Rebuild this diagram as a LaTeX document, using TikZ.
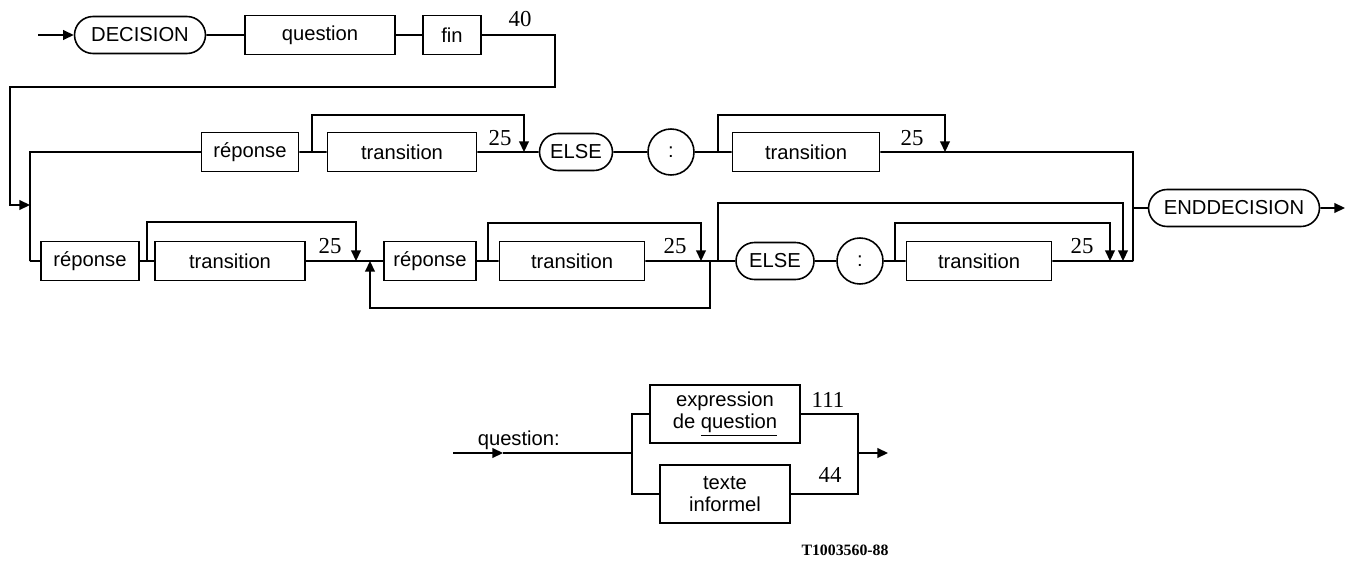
\documentclass[tikz,border=0pt]{standalone}
\usepackage{fontspec}
\setmainfont{Liberation Serif}
\setsansfont{Liberation Sans}
\usetikzlibrary{shapes.misc,arrows.meta}

\tikzset{
  boite/.style={draw, line width=0.9pt, minimum height=0.78cm, inner sep=2pt,
    font=\sffamily\fontsize{11.5}{13}\selectfont},
  mot/.style={boite, rounded rectangle, minimum height=0.74cm},
  rond/.style={draw, circle, line width=0.9pt, minimum size=0.92cm, inner sep=0pt,
    font=\sffamily\fontsize{11.5}{13}\selectfont},
  num/.style={font=\fontsize{13}{14}\selectfont},
  fl/.style={-{Triangle[length=6pt,width=5.5pt]}},
}

\begin{document}
\begin{tikzpicture}[x=0.02cm, y=-0.02cm, line width=0.9pt]
\useasboundingbox (0,0) rectangle (1356,561);

% Ligne 1 : DECISION question fin
\coordinate (in) at (38,35);
\node[mot, minimum width=2.76cm] (dec) at (140,35) {DECISION};
\node[boite, minimum width=3cm] (qst) at (320,35) {question};
\node[boite, minimum width=1.16cm] (fin) at (452,35) {fin};
\node[num] (n40) at (520,19) {40};
\draw[fl] (in) -- (dec);
\draw (dec) -- (qst);
\draw (qst) -- (fin);

% Retour vers la gauche
\coordinate (b1) at (555,87);
\coordinate (b2) at (10,87);
\coordinate (ga) at (30,205);
\draw[fl] (fin.east) -| (b1) -- (b2) |- (ga);

% Ligne 2 : une reponse et ELSE
\coordinate (ja) at (30,152);
\coordinate (jb) at (30,261);
\node[boite, minimum width=1.94cm] (rep1) at (250,152) {réponse};
\node[boite, minimum width=2.98cm] (tr1) at (402,152) {transition};
\node[num] (n25a) at (500,138) {25};
\node[mot, minimum width=1.6cm] (els1) at (576,152) {ELSE};
\node[rond] (col1) at (671,152) {:};
\node[boite, minimum width=2.94cm] (tr2) at (806,152) {transition};
\node[num] (n25b) at (912,138) {25};
\coordinate (k1) at (1133,152);
\coordinate (k2) at (1133,261);
\coordinate (k3) at (1133,208);
\draw (rep1) -| (jb) -- (ja);
\draw (rep1) -- (tr1) -- (els1) -- (col1) -- (tr2) -- (k1) -- (k2);
\coordinate (s1) at (312,152);
\coordinate (h1) at (524,115);
\coordinate (e1) at (524,152);
\draw[fl] (s1) |- (h1) -- (e1);
\coordinate (s2) at (718,152);
\coordinate (h2) at (945,115);
\coordinate (e2) at (945,152);
\draw[fl] (s2) |- (h2) -- (e2);

% Fin
\node[mot, minimum width=3.56cm] (end) at (1234,208) {ENDDECISION};
\coordinate (out) at (1345,208);
\draw (k3) -- (end);
\draw[fl] (end) -- (out);

% Ligne 3 : plusieurs reponses
\node[boite, minimum width=1.96cm] (rep3) at (90,261) {réponse};
\node[boite, minimum width=3cm] (tr3) at (230,261) {transition};
\node[num] (n25c) at (330,246) {25};
\coordinate (m1) at (370,261);
\node[boite, minimum width=1.84cm] (rep4) at (430,261) {réponse};
\node[boite, minimum width=2.9cm] (tr4) at (572,261) {transition};
\node[num] (n25d) at (675,246) {25};
\coordinate (m5) at (718,261);
\node[mot, minimum width=1.7cm] (els2) at (775,261) {ELSE};
\node[rond] (col2) at (860,261) {:};
\node[boite, minimum width=2.9cm] (tr5) at (979,261) {transition};
\node[num] (n25e) at (1082,246) {25};
\draw (jb) -- (rep3) -- (tr3) -- (m1) -- (rep4) -- (tr4) -- (m5) -- (els2) -- (col2) -- (tr5) -- (k2);
\coordinate (s3) at (147,261);
\coordinate (h3) at (356,222);
\coordinate (e3) at (356,261);
\draw[fl] (s3) |- (h3) -- (e3);
\coordinate (s4) at (488,261);
\coordinate (h4) at (701,223);
\coordinate (e4) at (701,261);
\draw[fl] (s4) |- (h4) -- (e4);
\coordinate (s5) at (895,261);
\coordinate (h5) at (1110,223);
\coordinate (e5) at (1110,261);
\draw[fl] (s5) |- (h5) -- (e5);
% boucle
\coordinate (m3) at (710,261);
\coordinate (m4) at (370,308);
\draw[fl] (m3) |- (m4) -- (m1);
% sans ELSE
\coordinate (h6) at (1123,203);
\coordinate (e6) at (1123,261);
\draw[fl] (m5) |- (h6) -- (e6);

% question:
\coordinate (qa) at (453,453);
\coordinate (qm) at (503,453);
\coordinate (qj) at (632,453);
\coordinate (qk) at (858,453);
\coordinate (qz) at (888,453);
\node[anchor=base west, inner sep=0pt, font=\sffamily\fontsize{11.5}{13}\selectfont] (qlab) at (477,445) {question:};
\node[boite, minimum width=3cm, minimum height=1.16cm, align=center,
  font=\sffamily\fontsize{11.5}{12.5}\selectfont] (ex) at (725,414) {expression\\de \underline{question}};
\node[boite, minimum width=2.6cm, minimum height=1.16cm, align=center,
  font=\sffamily\fontsize{11.5}{12.5}\selectfont] (tx) at (725,494) {texte\\informel};
\node[num] (n111) at (828,400) {111};
\node[num] (n44) at (830,475) {44};
\draw[fl] (qa) -- (qm);
\draw (qm) -- (qj);
\draw (ex.west) -| (qj) |- (tx.west);
\draw (ex.east) -| (qk) |- (tx.east);
\draw[fl] (qk) -- (qz);

\node[font=\bfseries\fontsize{9}{10}\selectfont] (ref) at (845,550) {T1003560-88};
\end{tikzpicture}
\end{document}
